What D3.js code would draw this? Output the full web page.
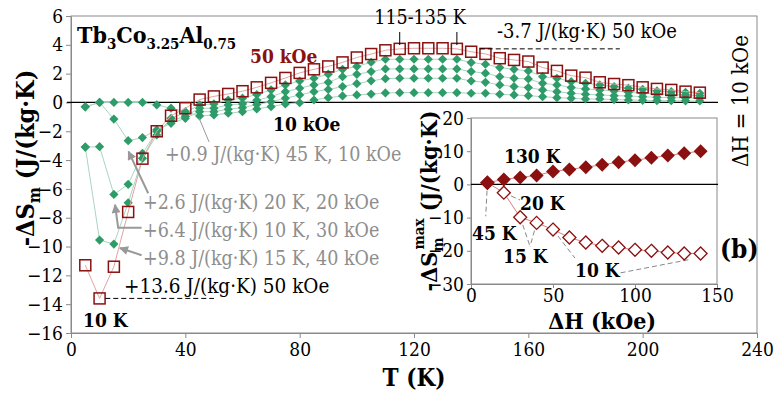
<!DOCTYPE html>
<html>
<head>
<meta charset="utf-8">
<script src="https://cdn.jsdelivr.net/npm/d3@7/dist/d3.min.js"></script>
<style>
body { margin: 0; background: #fff; }
svg text { font-stretch: condensed; }
</style>
</head>
<body>
<div class="chart"></div>
<script>
// main panel: -dS vs T for 10..50 kOe
const temps = [5,10,15,20,25,30,35,40,45,50,55,60,65,70,75,80,85,90,95,100,105,110,
    115,120,125,130,135,140,145,150,155,160,165,170,175,180,185,190,195,200,205,210,215,220];
const ds10 = [-0.3,0,0,0,0,-0.17,-0.4,-0.64,-0.94,-0.87,-0.75,-0.64,-0.45,-0.29,-0.1,-0.02,0.17,0.33,0.45,0.52,0.58,0.66,
    0.68,0.68,0.68,0.68,0.68,0.64,0.64,0.57,0.52,0.47,0.4,0.33,0.29,0.24,0.24,0.2,0.17,0.15,0.13,0.12,0.11,0.1];
const ds20 = [-0.3,0,-1.15,-2.65,-2.44,-1.9,-1.45,-1.1,-0.64,-0.64,-0.47,-0.36,-0.15,0.05,0.29,0.52,0.75,0.9,1.1,1.3,1.5,1.65,
    1.68,1.68,1.68,1.68,1.68,1.49,1.4,1.22,1.1,1.03,0.87,0.75,0.64,0.57,0.52,0.47,0.45,0.4,0.36,0.33,0.31,0.29];
const ds30 = [-3.1,-3.07,-6.38,-5.68,-3.53,-2.0,-1.3,-0.95,-0.4,-0.4,-0.17,-0.1,0.15,0.4,0.75,0.99,1.22,1.4,1.79,1.95,2.14,2.33,
    2.33,2.33,2.33,2.33,2.33,2.14,2.03,1.79,1.68,1.63,1.33,1.22,1.03,0.94,0.87,0.8,0.71,0.64,0.59,0.55,0.52,0.47];
const ds40 = [-3.1,-9.55,-9.83,-6.96,-3.88,-2.26,-1.1,-0.7,-0.17,-0.1,0.17,0.3,0.55,0.87,1.22,1.49,1.68,1.96,2.3,2.5,2.79,3.0,
    3.0,3.0,3.0,3.0,3.0,2.77,2.65,2.42,2.3,2.19,1.79,1.68,1.44,1.33,1.22,1.1,0.99,0.91,0.8,0.75,0.7,0.64];
const ds50 = [-11.3,-13.6,-11.4,-7.6,-3.9,-2.0,-0.92,-0.4,0.2,0.42,0.59,0.78,1.05,1.36,1.7,2.05,2.3,2.5,2.78,3.12,3.36,3.62,
    3.72,3.76,3.76,3.76,3.72,3.52,3.37,3.07,2.95,2.84,2.42,2.19,1.86,1.72,1.4,1.28,1.2,1.05,0.94,0.87,0.75,0.68];

// inset: max values vs field
const fields = [10,20,30,40,50,60,70,80,90,100,110,120,130,140];
const max130K = [0.5,1.5,2.1,2.7,3.9,4.5,5.2,5.9,6.7,7.3,8.0,8.7,9.4,10.0];
const maxLowT = [0.5,-2.5,-9.9,-11.6,-13.6,-16.0,-17.5,-18.5,-19.0,-19.7,-20.0,-20.5,-20.8,-20.8];

const xTicks = [0,40,80,120,160,200,240];
const yTicks = [-16,-14,-12,-10,-8,-6,-4,-2,0,2,4,6];
const insetXTicks = [0,50,100,150];
const insetYTicks = [-30,-20,-10,0,10,20];

const width = 774;
const height = 393;
const serif = "'DejaVu Serif Condensed', 'DejaVu Serif', serif";
const green = "#2e9c69";
const darkRed = "#8b1010";
const grayText = "#8e8e8e";

const svg = d3.select(".chart")
    .append("svg")
    .attr("width", width)
    .attr("height", height)
    .attr("font-family", serif);

svg.append("defs").append("marker")
    .attr("id", "arrow")
    .attr("viewBox", "0 0 10 10")
    .attr("refX", 9)
    .attr("refY", 5)
    .attr("markerUnits", "userSpaceOnUse")
    .attr("markerWidth", 10)
    .attr("markerHeight", 9)
    .attr("orient", "auto")
    .append("path")
    .attr("d", "M0,0 L10,5 L0,10 Z")
    .attr("fill", "#999");

const x = d3.scaleLinear().domain([0, 240]).range([71, 757]);
const y = d3.scaleLinear().domain([-16, 6]).range([333, 16]);

const ix = d3.scaleLinear().domain([0, 150]).range([471, 717]);
const iy = d3.scaleLinear().domain([-30, 20]).range([284, 118]);

function diamond(r) {
    return "M0," + (-r) + "L" + r + ",0L0," + r + "L" + (-r) + ",0Z";
}

// frame
svg.append("rect")
    .attr("x", x(0)).attr("y", y(6))
    .attr("width", x(240) - x(0)).attr("height", y(-16) - y(6))
    .attr("fill", "none").attr("stroke", "#8a8a8a").attr("stroke-width", 1);

const xAxis = svg.append("g")
    .attr("transform", "translate(0," + y(-16) + ")")
    .call(d3.axisBottom(x).tickValues(xTicks).tickSize(5).tickSizeOuter(0).tickPadding(5));
const yAxis = svg.append("g")
    .attr("transform", "translate(" + x(0) + ",0)")
    .call(d3.axisLeft(y).tickValues(yTicks).tickSize(5).tickSizeOuter(0).tickPadding(3));

[xAxis, yAxis].forEach(function(g) {
    g.attr("font-family", serif).attr("font-size", 19);
    g.selectAll("path, line").attr("stroke", "#8a8a8a");
    g.selectAll("text").attr("fill", "#000");
});

// inset box (white, covers main plot)
svg.append("rect")
    .attr("x", ix(0)).attr("y", iy(20))
    .attr("width", ix(150) - ix(0)).attr("height", iy(-30) - iy(20))
    .attr("fill", "#fff").attr("stroke", "#8a8a8a").attr("stroke-width", 1);

// zero line of main plot
svg.append("line")
    .attr("x1", x(0) - 4).attr("x2", ix(150) + 1)
    .attr("y1", y(0)).attr("y2", y(0))
    .attr("stroke", "#000").attr("stroke-width", 1.3);

// green series
const lowFields = [ds10, ds20, ds30, ds40];
const line = d3.line()
    .x(function(d, i) { return x(temps[i]); })
    .y(function(d) { return y(d); });

lowFields.forEach(function(s) {
    svg.append("path")
        .attr("d", line(s))
        .attr("fill", "none")
        .attr("stroke", "#a9d6c0")
        .attr("stroke-width", 1);
});
lowFields.forEach(function(s) {
    svg.append("g").selectAll("path")
        .data(s)
        .enter()
        .append("path")
        .attr("d", diamond(4.6))
        .attr("transform", function(d, i) {
            return "translate(" + x(temps[i]) + "," + y(d) + ")";
        })
        .attr("fill", green);
});

// 50 kOe squares
svg.append("path")
    .attr("d", line(ds50))
    .attr("fill", "none")
    .attr("stroke", "#e2a3a3")
    .attr("stroke-width", 1);
svg.append("g").selectAll("rect")
    .data(ds50)
    .enter()
    .append("rect")
    .attr("x", function(d, i) { return x(temps[i]) - 5.5; })
    .attr("y", function(d) { return y(d) - 5.5; })
    .attr("width", 11)
    .attr("height", 11)
    .attr("fill", "none")
    .attr("stroke", darkRed)
    .attr("stroke-width", 1.5);

// dashed markers
svg.append("line")
    .attr("x1", x(12)).attr("x2", x(50))
    .attr("y1", y(-13.6)).attr("y2", y(-13.6))
    .attr("stroke", "#000").attr("stroke-dasharray", "5,3");
svg.append("line")
    .attr("x1", x(143)).attr("x2", x(192))
    .attr("y1", y(3.72)).attr("y2", y(3.72))
    .attr("stroke", "#000").attr("stroke-dasharray", "5,3");
[115, 135].forEach(function(t) {
    svg.append("line")
        .attr("x1", x(t)).attr("x2", x(t))
        .attr("y1", 32).attr("y2", 45)
        .attr("stroke", "#000").attr("stroke-width", 1);
});

// gray arrows
const arrows = [
    [[48.3, -2.74], [44.8, -1.08]],
    [[27, -6.3], [20.1, -3.4]],
    [[24.7, -8.7], [16.5, -8.7], [15.4, -7.1]],
    [[24.7, -10.6], [17.1, -10.1]]
];
const arrowLine = d3.line()
    .x(function(d) { return x(d[0]); })
    .y(function(d) { return y(d[1]); });
arrows.forEach(function(a, i) {
    svg.append("path")
        .attr("d", arrowLine(a))
        .attr("fill", "none")
        .attr("stroke", "#999")
        .attr("stroke-width", i === 0 ? 1 : 2)
        .attr("marker-end", i === 0 ? null : "url(#arrow)");
});

function addText(txt, px, py, opts) {
    const t = svg.append("text")
        .attr("x", px).attr("y", py)
        .attr("font-size", opts.size || 19)
        .attr("font-weight", opts.bold ? "bold" : "normal")
        .attr("fill", opts.color || "#000")
        .attr("text-anchor", opts.anchor || "start")
        .text(txt);
    return t;
}

addText("+0.9 J/(kg\u00b7K) 45 K, 10 kOe", 165, 161, {color: grayText, size: 19.5});
addText("+2.6 J/(kg\u00b7K) 20 K, 20 kOe", 143, 209, {color: grayText, size: 19.5});
addText("+6.4 J/(kg\u00b7K) 10 K, 30 kOe", 143, 237, {color: grayText, size: 19.5});
addText("+9.8 J/(kg\u00b7K) 15 K, 40 kOe", 143, 265, {color: grayText, size: 19.5});
addText("+13.6 J/(kg\u00b7K) 50 kOe", 124, 293, {size: 20.5});
addText("10 K", 83, 327, {bold: true});
addText("50 kOe", 250, 63, {bold: true, color: darkRed});
addText("10 kOe", 273, 131, {bold: true});
addText("115-135 K", 420, 24, {anchor: "middle", size: 19.5});
addText("-3.7 J/(kg\u00b7K) 50 kOe", 497, 38, {size: 20});

// compound title
const title = svg.append("text")
    .attr("x", 77).attr("y", 43)
    .attr("font-size", 23)
    .attr("font-weight", "bold");
title.append("tspan").text("Tb");
title.append("tspan").attr("font-size", 15).attr("dy", 6).text("3");
title.append("tspan").attr("dy", -6).text("Co");
title.append("tspan").attr("font-size", 15).attr("dy", 6).text("3.25");
title.append("tspan").attr("dy", -6).text("Al");
title.append("tspan").attr("font-size", 15).attr("dy", 6).text("0.75");

// axis titles
svg.append("text")
    .attr("x", x(120)).attr("y", 386)
    .attr("text-anchor", "middle")
    .attr("font-size", 24)
    .attr("font-weight", "bold")
    .text("T (K)");

const yTitle = svg.append("text")
    .attr("transform", "translate(34,158) rotate(-90)")
    .attr("text-anchor", "middle")
    .attr("font-size", 25)
    .attr("font-weight", "bold");
yTitle.append("tspan").text("-\u0394S");
yTitle.append("tspan").attr("font-size", 17).attr("dy", 6).text("m");
yTitle.append("tspan").attr("dy", -6).text(" (J/(kg\u00b7K)");

svg.append("text")
    .attr("transform", "translate(748,101) rotate(-90)")
    .attr("text-anchor", "middle")
    .attr("font-size", 22)
    .text("\u0394H = 10 kOe");

// ----- inset -----
const ixAxis = svg.append("g")
    .attr("transform", "translate(0," + iy(-30) + ")")
    .call(d3.axisBottom(ix).tickValues(insetXTicks).tickSize(4).tickSizeOuter(0).tickPadding(1));
const iyAxis = svg.append("g")
    .attr("transform", "translate(" + ix(0) + ",0)")
    .call(d3.axisLeft(iy).tickValues(insetYTicks).tickSize(4).tickSizeOuter(0).tickPadding(3));
[ixAxis, iyAxis].forEach(function(g) {
    g.attr("font-family", serif).attr("font-size", 19);
    g.selectAll("path, line").attr("stroke", "#8a8a8a");
    g.selectAll("text").attr("fill", "#000");
});

svg.append("line")
    .attr("x1", ix(0)).attr("x2", ix(150) + 1)
    .attr("y1", iy(0)).attr("y2", iy(0))
    .attr("stroke", "#000").attr("stroke-width", 1.3);

// leader lines
const leaders = [
    [[10, 0.5], [9, -9.6]],
    [[20, -2.5], [29.9, -4.7]],
    [[30, -9.9], [36, -18.7]],
    [[40, -11.6], [36, -18.7]],
    [[50, -13.6], [63.4, -22.2]],
    [[132.5, -22.7], [89.6, -26.8]]
];
const leaderLine = d3.line()
    .x(function(d) { return ix(d[0]); })
    .y(function(d) { return iy(d[1]); });
leaders.forEach(function(l) {
    svg.append("path")
        .attr("d", leaderLine(l))
        .attr("fill", "none")
        .attr("stroke", "#888")
        .attr("stroke-width", 1)
        .attr("stroke-dasharray", "5,3");
});

const iline = d3.line()
    .x(function(d, i) { return ix(fields[i]); })
    .y(function(d) { return iy(d); });

svg.append("path")
    .attr("d", iline(maxLowT))
    .attr("fill", "none").attr("stroke", "#d98080").attr("stroke-width", 1);
svg.append("path")
    .attr("d", iline(max130K))
    .attr("fill", "none").attr("stroke", "#d98080").attr("stroke-width", 1);

svg.append("g").selectAll("path")
    .data(maxLowT)
    .enter()
    .append("path")
    .attr("d", diamond(6.5))
    .attr("transform", function(d, i) {
        return "translate(" + ix(fields[i]) + "," + iy(d) + ")";
    })
    .attr("fill", "#fff")
    .attr("stroke", darkRed)
    .attr("stroke-width", 1.3);

svg.append("g").selectAll("path")
    .data(max130K)
    .enter()
    .append("path")
    .attr("d", diamond(7))
    .attr("transform", function(d, i) {
        return "translate(" + ix(fields[i]) + "," + iy(d) + ")";
    })
    .attr("fill", darkRed);

addText("130 K", 504, 163, {bold: true});
addText("20 K", 520, 210, {bold: true});
addText("45 K", 472, 240, {bold: true});
addText("15 K", 503, 263, {bold: true});
addText("10 K", 575, 277, {bold: true});
addText("(b)", 720, 258, {bold: true, size: 26});

svg.append("text")
    .attr("x", ix(80)).attr("y", 329)
    .attr("text-anchor", "middle")
    .attr("font-size", 23)
    .attr("font-weight", "bold")
    .text("\u0394H (kOe)");

const iyTitle = svg.append("text")
    .attr("transform", "translate(437,201) rotate(-90)")
    .attr("text-anchor", "middle")
    .attr("font-size", 23)
    .attr("font-weight", "bold");
iyTitle.append("tspan").text("-\u0394S");
iyTitle.append("tspan").attr("font-size", 15).attr("dy", 6).text("m");
iyTitle.append("tspan").attr("font-size", 15).attr("dx", -12).attr("dy", -19).text("max");
iyTitle.append("tspan").attr("dy", 13).text(" (J/(kg\u00b7K)");
</script>
</body>
</html>
